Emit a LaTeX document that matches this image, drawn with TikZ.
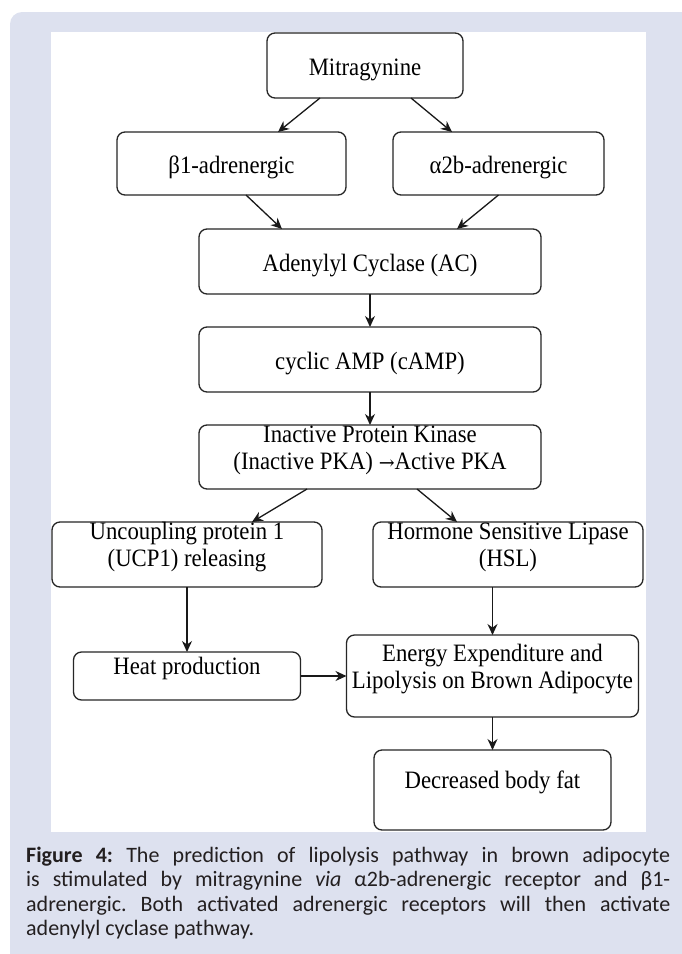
\documentclass[tikz,border=0pt]{standalone}
\usepackage{fontspec}
\setmainfont{Liberation Serif}[FakeStretch=0.91]
\newfontfamily\capfont{Carlito}
\newfontfamily\arrowfont{DejaVu Serif}
\usetikzlibrary{arrows.meta, positioning}
\definecolor{panelblue}{RGB}{221,225,239}
\definecolor{captext}{RGB}{35,31,32}
\tikzset{
    >=Stealth,
    path_box/.style={
        rectangle,
        rounded corners=8pt,
        draw=black!85,
        fill=white,
        line width=1.3pt,
        inner sep=0pt,
        outer sep=0pt,
        align=center,
        text height=26pt,
        text depth=6pt,
        font=\fontsize{25}{27}\selectfont
    },
    path_low/.style={
        text height=17pt,
        text depth=21pt
    },
    path_low_two/.style={
        text height=44pt,
        text depth=20pt
    },
    path_arrow/.style={
        -{Stealth[length=11pt, width=10pt]},
        line width=1.3pt,
        draw=black!90
    },
    path_caption/.style={
        anchor=base west,
        text width=644pt,
        align=justify,
        inner sep=0pt,
        text=captext,
        font=\capfont\fontsize{22}{24.5}\selectfont\frenchspacing
    }
}

\begin{document}
\begin{tikzpicture}[x=1pt, y=-1pt]
\useasboundingbox (0,0) rectangle (681,954);

% --- Background panel ---
\fill[panelblue, rounded corners=12pt] (10,12) rectangle (700,980);
\fill[white] (51,32) rectangle (646,832);

% --- Receptors ---
\node[path_box, minimum width=196pt, minimum height=65pt] (Mitra) at (365,65.5) {Mitragynine};
\node[path_box, minimum width=229pt, minimum height=63pt, below=34pt of Mitra, xshift=-133.5pt] (Beta1) {β1-adrenergic};
\node[path_box, minimum width=211pt, minimum height=63pt, right=47pt of Beta1] (Alpha2b) {α2b-adrenergic};

% --- cAMP cascade ---
\node[path_box, minimum width=342pt, minimum height=65pt, below=131pt of Mitra, xshift=5pt] (AC) {Adenylyl Cyclase (AC)};
\node[path_box, minimum width=342pt, minimum height=65pt, below=33pt of AC] (cAMP) {cyclic AMP (cAMP)};
\node[path_box, path_low_two, minimum width=342pt, minimum height=63pt, below=33pt of cAMP] (PKA)
  {Inactive Protein Kinase\\(Inactive PKA) {\arrowfont\fontsize{19}{27}\selectfont →}Active PKA};

% --- Downstream targets ---
\node[path_box, path_low_two, minimum width=270pt, minimum height=65pt, below=33pt of PKA, xshift=-183pt] (UCP1)
  {Uncoupling protein 1\\(UCP1) releasing};
\node[path_box, path_low_two, minimum width=270pt, minimum height=65pt, right=51pt of UCP1] (HSL)
  {Hormone Sensitive Lipase\\(HSL)};
\node[path_box, path_low, minimum width=227pt, minimum height=48pt, below=65pt of UCP1] (Heat) {Heat production};
\node[path_box, path_low_two, minimum width=292pt, minimum height=82pt, right=46pt of Heat] (Energy)
  {Energy Expenditure and\\Lipolysis on Brown Adipocyte};
\node[path_box, path_low, minimum width=237pt, minimum height=80pt, below=33pt of Energy] (BodyFat) {Decreased body fat};

% --- Edges ---
\draw[path_arrow] ([xshift=-45pt]Mitra.south) -- ([xshift=46.5pt]Beta1.north);
\draw[path_arrow] ([xshift=46pt]Mitra.south) -- ([xshift=-46.5pt]Alpha2b.north);
\draw[path_arrow] ([xshift=14.5pt]Beta1.south) -- ([xshift=-88pt]AC.north);
\draw[path_arrow] (Alpha2b.south) -- ([xshift=87pt]AC.north);
\draw[path_arrow] (AC) -- (cAMP);
\draw[path_arrow] (cAMP) -- (PKA);
\draw[path_arrow] ([xshift=-63pt]PKA.south) -- ([xshift=65pt]UCP1.north);
\draw[path_arrow] ([xshift=47pt]PKA.south) -- ([xshift=-51pt]HSL.north);
\draw[path_arrow] (UCP1) -- (Heat);
\draw[path_arrow] (HSL.south -| Energy.north) -- (Energy.north);
\draw[path_arrow] (Heat) -- (Energy);
\draw[path_arrow] (Energy) -- (BodyFat);

% --- Caption ---
\node[path_caption] (Caption) at (26,862)
  {\textbf{Figure 4:} The prediction of lipolysis pathway in brown adipocyte\linebreak
   is stimulated by mitragynine \textit{via} α2b-adrenergic receptor and β1-\linebreak
   adrenergic. Both activated adrenergic receptors will then activate\linebreak
   adenylyl cyclase pathway.};

\end{tikzpicture}
\end{document}
